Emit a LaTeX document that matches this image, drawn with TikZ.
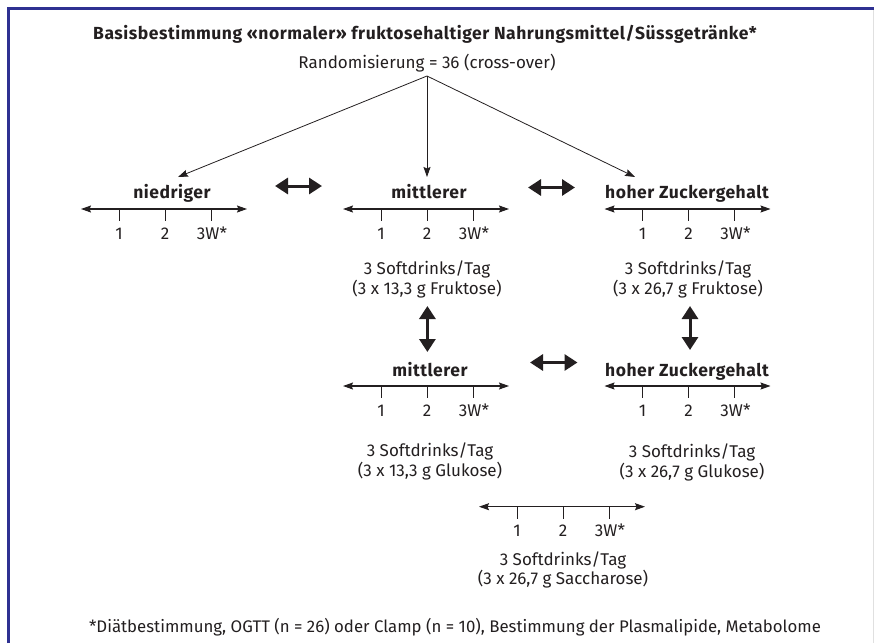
\documentclass[tikz,border=0pt]{standalone}
\usepackage{fontspec}
\setmainfont{Fira Sans}
\usetikzlibrary{arrows.meta}
\definecolor{ink}{RGB}{35,31,32}
\definecolor{navy}{RGB}{46,49,146}
\begin{document}
\begin{tikzpicture}[x=1pt,y=-1pt,
  every node/.style={inner sep=0pt,text=ink},
  txt/.style={font=\fontsize{17}{20}\selectfont,align=center},
  lab/.style={font=\fontsize{17.5}{20}\selectfont\bfseries\addfontfeatures{LetterSpace=3}},
  foot/.style={font=\fontsize{16.8}{18}\selectfont},
  axis/.style={draw=ink,line width=1.1pt,{Stealth[length=10pt,width=7pt,inset=1.5pt]}-{Stealth[length=10pt,width=7pt,inset=1.5pt]}},
  tickline/.style={draw=ink,line width=1pt},
  branch/.style={draw=ink,line width=0.8pt,-{Stealth[length=10pt,width=7pt,inset=1.5pt]}},
  swap/.style={draw=ink,line width=3pt,{Triangle[length=13pt,width=16pt]}-{Triangle[length=13pt,width=16pt]}},
  border/.style={draw=navy,line width=3pt},
  tline/.pic={
    \coordinate (-L) at (-84,0);
    \coordinate (-R) at (82,0);
    \draw[axis] (-L) -- (-R);
    \draw[tickline] (-46,0) -- (-46,12);
    \draw[tickline] (0,0) -- (0,12);
    \draw[tickline] (46,0) -- (46,12);
    \node[txt,anchor=base] (-t1) at (-46,30) {1};
    \node[txt,anchor=base] (-t2) at (0,30) {2};
    \node[txt,anchor=base] (-t3) at (47,30) {3W*};
  }
]
\useasboundingbox (0,0) rectangle (874,643);
% frame
\draw[border] (8,643) -- (8,8.5) -- (874,8.5);
\draw[black!12,line width=1pt] (873.5,10) -- (873.5,643);

% header
\node[lab,anchor=base] (title) at (425,39) {Basisbestimmung «normaler» fruktosehaltiger Nahrungsmittel/Süssgetränke*};
\node[txt,anchor=base] (rand) at (427,68) {Randomisierung = 36 (cross-over)};
\coordinate (apex) at (427,76);
\coordinate (t1) at (178,177);
\coordinate (t2) at (427,177);
\coordinate (t3) at (635,177);
\draw[branch] (apex) -- (t1);
\draw[branch] (apex) -- (t2);
\draw[branch] (apex) -- (t3);

% row 1
\node[lab,anchor=base] (l1) at (172,198) {niedriger};
\node[lab,anchor=base] (l2) at (429,198) {mittlerer};
\node[lab,anchor=base] (l3) at (687,198) {hoher Zuckergehalt};
\pic (a1) at (165,209) {tline};
\pic (a2) at (427,209) {tline};
\pic (a3) at (688.5,209) {tline};
\node[txt,anchor=base] (d2) at (427,274) {3 Softdrinks/Tag};
\node[txt,anchor=base] (e2) at (427,294) {(3 x 13,3 g Fruktose)};
\node[txt,anchor=base] (d3) at (688,274) {3 Softdrinks/Tag};
\node[txt,anchor=base] (e3) at (688,294) {(3 x 26,7 g Fruktose)};

% swap arrows
\coordinate (s1a) at (275,186); \coordinate (s1b) at (322,186);
\coordinate (s2a) at (528,187.5); \coordinate (s2b) at (575,187.5);
\coordinate (s3a) at (530,362.5); \coordinate (s3b) at (577.5,362.5);
\coordinate (v1a) at (427.4,306); \coordinate (v1b) at (427.4,352);
\coordinate (v2a) at (690,306); \coordinate (v2b) at (690,350);
\draw[swap] (s1a) -- (s1b);
\draw[swap] (s2a) -- (s2b);
\draw[swap] (s3a) -- (s3b);
\draw[swap] (v1a) -- (v1b);
\draw[swap] (v2a) -- (v2b);

% row 2
\node[lab,anchor=base] (l4) at (430,376) {mittlerer};
\node[lab,anchor=base] (l5) at (687,376) {hoher Zuckergehalt};
\pic (a4) at (427,386) {tline};
\pic (a5) at (688.5,386) {tline};
\node[txt,anchor=base] (d4) at (430,456) {3 Softdrinks/Tag};
\node[txt,anchor=base] (e4) at (430,476) {(3 x 13,3 g Glukose)};
\node[txt,anchor=base] (d5) at (692,457) {3 Softdrinks/Tag};
\node[txt,anchor=base] (e5) at (692,477) {(3 x 26,7 g Glukose)};

% row 3
\pic (a6) at (563,506.7) {tline};
\node[txt,anchor=base] (d6) at (563,565) {3 Softdrinks/Tag};
\node[txt,anchor=base] (e6) at (563,584) {(3 x 26,7 g Saccharose)};

% footnote
\node[foot,anchor=base] (fn) at (455,632) {*Diätbestimmung, OGTT (n = 26) oder Clamp (n = 10), Bestimmung der Plasmalipide, Metabolome};
\end{tikzpicture}
\end{document}
